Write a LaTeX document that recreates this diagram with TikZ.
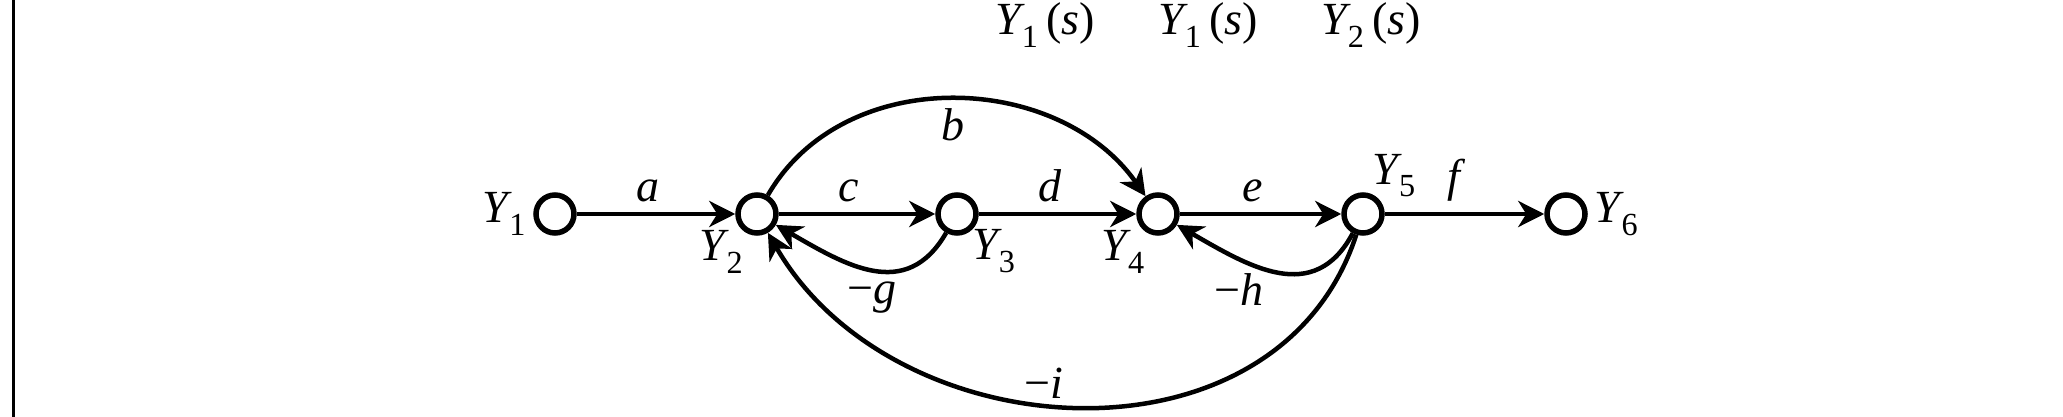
\documentclass[tikz,border=0pt]{standalone}
\usepackage{fontspec}
\setmainfont{Liberation Serif}
\usetikzlibrary{arrows.meta}
\newcommand{\varname}[2]{\textit{#1}\kern-3pt\textsubscript{#2}}

\begin{document}
\begin{tikzpicture}
[x=1pt,y=1pt,
  nodedecorate/.style={shape=circle,minimum size=38pt,inner sep=0pt,draw,line width=5.5pt},%
  linedecorate/.style={line width=4.5pt,-{Stealth[length=26pt,width=26pt,inset=8pt]}},%
  gaindecorate/.style={inner sep=3pt},%
  font=\fontsize{46}{55}\selectfont]
\useasboundingbox (0,0) rectangle (2063,417);
\fill[white] (0,0) rectangle (2063,417);
\draw[line width=3pt] (13,0) -- (13,417);
%% fragments of the line above
\foreach \nodename/\x/\idx in {top1/1045/1, top2/1208/1, top3/1371/2}
{
  \node (\nodename) at (\x,382) [anchor=base,inner sep=0pt] {\varname{Y}{\idx}\,(\textit{s})};
}
%% nodes or vertices
\foreach \nodename/\x/\ang/\dist/\idx in {Y1/555/180/6/1, Y2/757/-130/-2/2, Y3/957/-45/-2/3,
  Y4/1158/-128/-2/4, Y5/1363/62/-4/5, Y6/1566/0/6/6}
{
  \node (\nodename) at (\x,203) [nodedecorate,
    label={[inner sep=1pt,label distance=\dist pt]\ang:\varname{Y}{\idx}}] {};
}
%% edges or lines
\path
\foreach \startnode/\endnode/\gain in {Y1/Y2/a, Y2/Y3/c, Y3/Y4/d, Y4/Y5/e, Y5/Y6/f} {
  (\startnode) edge[linedecorate] node[pos=0.45,above=6pt,inner sep=4pt] {\textit{\gain}} (\endnode)
};
\draw[linedecorate] (Y2) to[out=60,in=125,looseness=1.03]
  node[pos=0.5,below=4pt,gaindecorate] {\textit{b}} (Y4);
\draw[linedecorate] (Y3) to[out=-120,in=-30,looseness=1.2]
  node[pos=0.5,below=7pt,gaindecorate] {−\textit{g}} (Y2);
\draw[linedecorate] (Y5) to[out=-118,in=-30,looseness=1.2]
  node[pos=0.7,below=10pt,gaindecorate] {−\textit{h}} (Y4);
\draw[linedecorate] (Y5) to[out=-108,in=-60,looseness=1.1]
  node[pos=0.55,above=0pt,gaindecorate] {−\textit{i}} (Y2);
\end{tikzpicture}
\end{document}
